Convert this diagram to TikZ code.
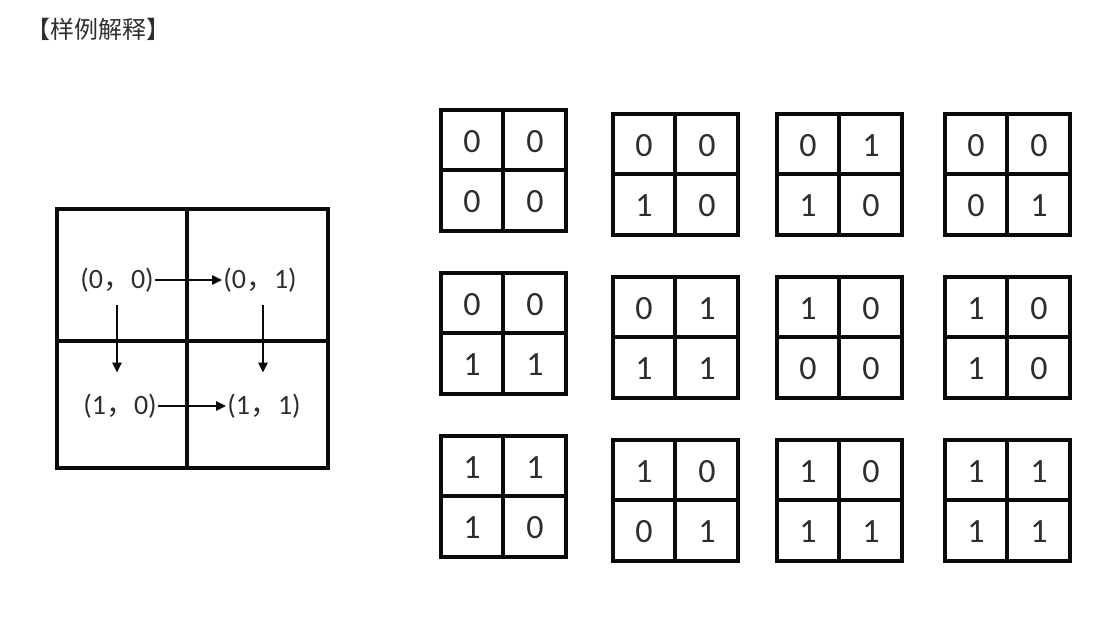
\documentclass[tikz,border=0pt]{standalone}
\usepackage{fontspec}
\usepackage{tikz}
\usetikzlibrary{arrows.meta,calc}
\newfontfamily\cjkfont{Noto Sans CJK SC}
\newfontfamily\digitfont{Carlito}
\definecolor{ink}{HTML}{2E2E2E}
\definecolor{frame}{HTML}{0A0A0A}
\tikzset{
  gridline/.style = {draw=frame, line width=3.3pt},
  cellnum/.style  = {text=ink, font=\digitfont\fontsize{34}{34}\selectfont, inner sep=0pt},
  poslab/.style   = {text=ink, font=\digitfont\fontsize{28}{28}\selectfont, inner sep=1pt},
  move/.style     = {->, draw=frame, line width=2.3pt, >={Triangle[length=10pt,width=9pt]}},
}
\begin{document}
\begin{tikzpicture}[x=1pt,y=-1pt]
    \useasboundingbox (0,0) rectangle (1107,620);
    \node[text=ink,font=\cjkfont\fontsize{24}{24}\selectfont,anchor=west,inner sep=0pt]
      (title) at (26,29) {【样例解释】};
    % big grid with the four positions
    \draw[gridline] (57,209) rectangle (328,468);
    \draw[gridline] (187,209) -- (187,468);
    \draw[gridline] (57,341) -- (328,341);
    \node[poslab] (p00) at (117,280) {(0{\cjkfont ，}0)};
    \node[poslab] (p01) at (260,280) {(0{\cjkfont ，}1)};
    \node[poslab] (p10) at (120,406) {(1{\cjkfont ，}0)};
    \node[poslab] (p11) at (264,406) {(1{\cjkfont ，}1)};
    \draw[move] (p00) -- (p01);
    \draw[move] (p10) -- (p11);
    \draw[move,shorten <=12pt,shorten >=20pt] (p00.south) -- (p00.south |- p10.north);
    \draw[move,shorten <=12pt,shorten >=20pt] ($(p01.south)+(3,0)$) -- ($(p01.south |- p11.north)+(3,0)$);
    % twelve small 2x2 grids
    \foreach \n/\gx/\gy/\a/\b/\c/\d in {1/441/110/0/0/0/0, 2/613/114/0/0/1/0,
        3/777/114/0/1/1/0, 4/945/114/0/0/0/1, 5/441/273/0/0/1/1, 6/613/277/0/1/1/1,
        7/777/277/1/0/0/0, 8/945/277/1/0/1/0, 9/441/436/1/1/1/0, 10/613/440/1/0/0/1,
        11/777/440/1/0/1/1, 12/945/440/1/1/1/1}{
      \draw[gridline] (\gx,\gy) rectangle ++(125,121);
      \draw[gridline] ($(\gx,\gy)+(62,0)$) -- ++(0,121);
      \draw[gridline] ($(\gx,\gy)+(0,60)$) -- ++(125,0);
      \node[cellnum] (g\n-a) at ($(\gx,\gy)+(31,32)$) {\a};
      \node[cellnum] (g\n-b) at ($(\gx,\gy)+(94,32)$) {\b};
      \node[cellnum] (g\n-c) at ($(\gx,\gy)+(31,92)$) {\c};
      \node[cellnum] (g\n-d) at ($(\gx,\gy)+(94,92)$) {\d};}
\end{tikzpicture}
\end{document}
